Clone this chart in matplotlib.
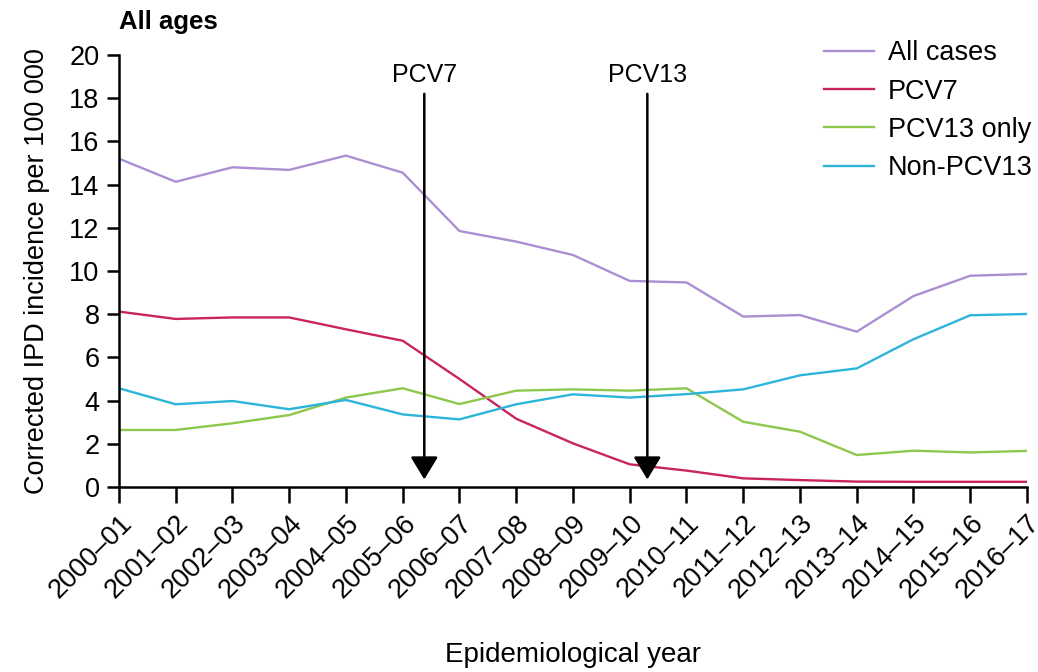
import matplotlib
matplotlib.use("Agg")
import matplotlib.pyplot as plt

years = ["2000–01", "2001–02", "2002–03", "2003–04", "2004–05", "2005–06",
         "2006–07", "2007–08", "2008–09", "2009–10", "2010–11", "2011–12",
         "2012–13", "2013–14", "2014–15", "2015–16", "2016–17"]

all_cases = [15.2, 14.13, 14.8, 14.68, 15.34, 14.55, 11.85, 11.36, 10.74,
             9.54, 9.47, 7.89, 7.96, 7.19, 8.84, 9.78, 9.86]
pcv7 = [8.12, 7.78, 7.85, 7.85, 7.3, 6.77, 5.0, 3.16, 2.02,
        1.05, 0.76, 0.4, 0.32, 0.25, 0.24, 0.24, 0.24]
pcv13_only = [2.64, 2.64, 2.95, 3.33, 4.14, 4.57, 3.84, 4.46, 4.52,
              4.46, 4.57, 3.02, 2.56, 1.48, 1.68, 1.6, 1.67]
non_pcv13 = [4.57, 3.83, 3.98, 3.6, 4.03, 3.36, 3.13, 3.83, 4.29,
             4.14, 4.3, 4.52, 5.17, 5.49, 6.84, 7.95, 8.01]

# vaccine introductions, x position in year index
vaccines = ["PCV7", "PCV13"]
vaccine_x = [5.38, 9.31]

plt.rcParams["font.family"] = ["Liberation Sans", "DejaVu Sans"]
fs = 19.5

fig = plt.figure(figsize=(10.38, 6.72), dpi=100)
ax = fig.add_axes([0.1146, 0.2753, 0.8748, 0.6429])

x = list(range(len(years)))
series = [("All cases", all_cases, "#ab8fd2"),
          ("PCV7", pcv7, "#c9255c"),
          ("PCV13 only", pcv13_only, "#8dc74c"),
          ("Non-PCV13", non_pcv13, "#2db5d9")]
for lab, vals, col in series:
    ax.plot(x, vals, color=col, lw=1.7, label=lab)

for name, xv in zip(vaccines, vaccine_x):
    ax.annotate("", xy=(xv, 0.35), xytext=(xv, 18.2),
                arrowprops=dict(arrowstyle="-|>,head_length=1.4,head_width=0.85",
                                color="black", lw=1.8, shrinkA=0, shrinkB=0))
    ax.text(xv, 18.5, name, ha="center", va="bottom", fontsize=18)

ax.set_xlim(0, 16)
ax.set_ylim(0, 20)
ax.set_yticks(range(0, 21, 2))
ax.set_xticks(x)
ax.set_xticklabels(years, rotation=45, ha="right", rotation_mode="anchor", fontsize=fs)
ax.tick_params(axis="y", labelsize=fs, length=9, width=1.8, direction="out", pad=5)
ax.tick_params(axis="x", length=11.5, width=1.8, direction="out", pad=5)
for s in ["top", "right"]:
    ax.spines[s].set_visible(False)
for s in ["left", "bottom"]:
    ax.spines[s].set_linewidth(1.8)

ax.set_ylabel("Corrected IPD incidence per 100 000", fontsize=fs, labelpad=14)
ax.set_xlabel("Epidemiological year", fontsize=fs + 0.5, labelpad=28)
fig.text(0.1146, 0.967, "All ages", fontsize=18.5, fontweight="bold", va="center")

ax.legend(loc="upper right", bbox_to_anchor=(1.033, 1.09), frameon=False,
          fontsize=fs, handlelength=1.85, handletextpad=0.5, labelspacing=0.45)

fig.savefig("out.png", dpi=100)
